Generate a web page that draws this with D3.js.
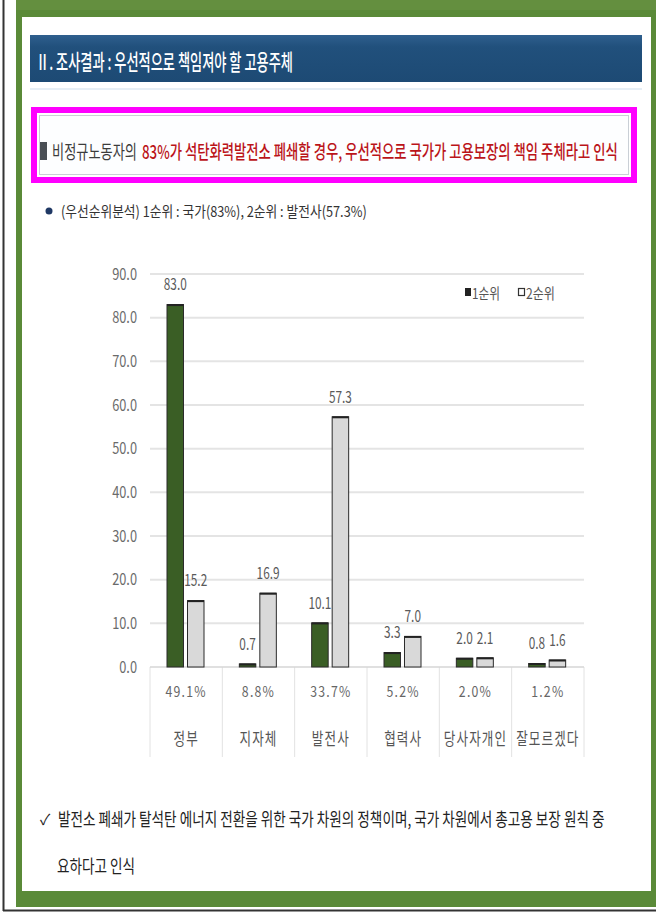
<!DOCTYPE html>
<html>
<head>
<meta charset="utf-8">
<script src="https://cdn.jsdelivr.net/npm/d3@7"></script>
<style>
  html, body { margin: 0; padding: 0; background: #fff; }
  svg { display: block; }
  text { font-family: "Noto Sans CJK KR", "Noto Sans", sans-serif; }
</style>
</head>
<body>
<script>
// Survey: which employer should take primary responsibility (1st / 2nd choice, %)
const categories = ["정부", "지자체", "발전사", "협력사", "당사자개인", "잘모르겠다"];
const rank1 = [83.0, 0.7, 10.1, 3.3, 2.0, 0.8];
const rank2 = [15.2, 16.9, 57.3, 7.0, 2.1, 1.6];
const shareLabels = ["49.1%", "8.8%", "33.7%", "5.2%", "2.0%", "1.2%"];
const seriesNames = ["1순위", "2순위"];
const yTicks = [0, 10, 20, 30, 40, 50, 60, 70, 80, 90];

const W = 656, H = 913;
const svg = d3.select("body").append("svg").attr("width", W).attr("height", H);

// narrow a text horizontally around its anchor, either to a width or by a factor
function squeeze(sel, opt) {
  sel.each(function () {
    const t = d3.select(this);
    const w = this.getComputedTextLength();
    const k = opt.width ? opt.width / w : opt.k;
    const ax = +t.attr("x") || 0;
    t.attr("transform", `translate(${ax},0) scale(${k},1) translate(${-ax},0)`);
  });
}

const defs = svg.append("defs");
const bg = defs.append("linearGradient").attr("id", "banner").attr("x1", 0).attr("y1", 0).attr("x2", 0).attr("y2", 1);
bg.append("stop").attr("offset", 0).attr("stop-color", "#2f5f8e");
bg.append("stop").attr("offset", 0.25).attr("stop-color", "#21507c");
bg.append("stop").attr("offset", 1).attr("stop-color", "#1d4a74");

// page frame
svg.append("rect").attr("x", 16).attr("y", 0).attr("width", W - 16).attr("height", 907).attr("fill", "#5a8a38");
svg.append("rect").attr("x", 16).attr("y", 0).attr("width", W - 16).attr("height", 10).attr("fill", "#648f3f");
svg.append("rect").attr("x", 22).attr("y", 17).attr("width", 629).attr("height", 874).attr("fill", "#fff");
svg.append("line").attr("x1", 3.5).attr("x2", 3.5).attr("y1", 0).attr("y2", 911).attr("stroke", "#333").attr("stroke-width", 2);
svg.append("line").attr("x1", 3).attr("x2", W).attr("y1", 910.5).attr("y2", 910.5).attr("stroke", "#333").attr("stroke-width", 2);

// section banner
svg.append("rect").attr("x", 30).attr("y", 35).attr("width", 612).attr("height", 47).attr("fill", "url(#banner)");
svg.append("rect").attr("x", 30).attr("y", 88).attr("width", 612).attr("height", 2).attr("fill", "#e6eef5");
svg.append("text").attr("x", 36).attr("y", 60).attr("dominant-baseline", "central")
  .attr("font-size", 22).attr("fill", "#fff").attr("font-weight", 500)
  .text("Ⅱ. 조사결과 : 우선적으로 책임져야 할 고용주체").call(squeeze, { width: 257 });

// highlighted headline box
svg.append("rect").attr("x", 34).attr("y", 110).attr("width", 600).attr("height", 70)
  .attr("fill", "#fff").attr("stroke", "#ff00ff").attr("stroke-width", 6);
svg.append("rect").attr("x", 39.5).attr("y", 115.5).attr("width", 589).attr("height", 59)
  .attr("fill", "#fdfeff").attr("stroke", "#c9cfd6").attr("stroke-width", 1);
svg.append("rect").attr("x", 40).attr("y", 142).attr("width", 7).attr("height", 18).attr("fill", "#4a4f55");
svg.append("text").attr("x", 52).attr("y", 151).attr("dominant-baseline", "central")
  .attr("font-size", 19).attr("fill", "#3c3c3c")
  .text("비정규노동자의").call(squeeze, { width: 85 });
svg.append("text").attr("x", 142).attr("y", 151).attr("dominant-baseline", "central")
  .attr("font-size", 19).attr("fill", "#bb1419").attr("font-weight", 500)
  .text("83%가 석탄화력발전소 폐쇄할 경우, 우선적으로 국가가 고용보장의 책임 주체라고 인식").call(squeeze, { width: 476 });

// summary bullet
svg.append("circle").attr("cx", 49).attr("cy", 211).attr("r", 3.5).attr("fill", "#1f3864");
svg.append("text").attr("x", 61).attr("y", 211).attr("dominant-baseline", "central")
  .attr("font-size", 15).attr("fill", "#333")
  .text("(우선순위분석) 1순위 : 국가(83%), 2순위 : 발전사(57.3%)").call(squeeze, { width: 306 });

// chart scales
const y = d3.scaleLinear().domain([0, 90]).range([667, 274]);
const x = d3.scaleBand().domain(categories).range([150, 584]).padding(0);
const xi = d3.scaleBand().domain(seriesNames).range([17, 54]).paddingInner(0.195);

const chart = svg.append("g");

// horizontal gridlines
chart.append("g").selectAll("line").data(yTicks.filter(d => d > 0)).join("line")
  .attr("x1", 150).attr("x2", 584).attr("y1", d => y(d)).attr("y2", d => y(d))
  .attr("stroke", "#e4e4e4").attr("stroke-width", 2);

// y axis labels
const yAxis = d3.axisLeft(y).tickValues(yTicks).tickFormat(d => d.toFixed(1)).tickSize(0).tickPadding(0);
const yg = chart.append("g").attr("transform", "translate(137,0)").call(yAxis);
yg.select(".domain").remove();
yg.selectAll("text").attr("font-size", 16).attr("fill", "#6b6b6b")
  .attr("font-family", "\"Noto Sans CJK KR\", sans-serif").call(squeeze, { k: 0.8 });

// category separators under the axis
const bounds = categories.map(c => x(c)).concat([x.range()[1]]);
chart.append("g").selectAll("line").data(bounds).join("line")
  .attr("x1", d => d).attr("x2", d => d).attr("y1", 667).attr("y2", 757)
  .attr("stroke", "#e2e2e2").attr("stroke-width", 1);
chart.append("line").attr("x1", 150).attr("x2", 584).attr("y1", 667).attr("y2", 667)
  .attr("stroke", "#d6d6d6").attr("stroke-width", 1.5);

// bars
const rows = [];
categories.forEach((c, i) => {
  rows.push({ cat: c, s: seriesNames[0], v: rank1[i] });
  rows.push({ cat: c, s: seriesNames[1], v: rank2[i] });
});
const fills = { "1순위": "#3a5e25", "2순위": "#d9d9d9" };
const bars = chart.append("g").selectAll("g").data(rows).join("g");
bars.append("rect")
  .attr("x", d => x(d.cat) + xi(d.s))
  .attr("y", d => y(d.v))
  .attr("width", xi.bandwidth())
  .attr("height", d => y(0) - y(d.v))
  .attr("fill", d => fills[d.s])
  .attr("stroke", "#2b2b2b").attr("stroke-width", 1);
bars.append("line")
  .attr("x1", d => x(d.cat) + xi(d.s)).attr("x2", d => x(d.cat) + xi(d.s) + xi.bandwidth())
  .attr("y1", d => y(d.v) + 0.5).attr("y2", d => y(d.v) + 0.5)
  .attr("stroke", "#222").attr("stroke-width", 2);
bars.append("text")
  .attr("x", d => x(d.cat) + xi(d.s) + xi.bandwidth() / 2)
  .attr("y", d => y(d.v) - 21)
  .attr("text-anchor", "middle").attr("dominant-baseline", "central")
  .attr("font-size", 16).attr("fill", "#5a5a5a")
  .text(d => d.v.toFixed(1)).call(squeeze, { k: 0.74 });

// share and category labels
chart.append("g").selectAll("text").data(categories).join("text")
  .attr("x", d => x(d) + x.bandwidth() / 2).attr("y", 690)
  .attr("text-anchor", "middle").attr("dominant-baseline", "central")
  .attr("font-size", 15).attr("fill", "#666").attr("letter-spacing", 1.5)
  .text((d, i) => shareLabels[i]).call(squeeze, { k: 0.82 });
chart.append("g").selectAll("text").data(categories).join("text")
  .attr("x", d => x(d) + x.bandwidth() / 2).attr("y", 738)
  .attr("text-anchor", "middle").attr("dominant-baseline", "central")
  .attr("font-size", 17).attr("fill", "#555").attr("letter-spacing", 1.5)
  .text(d => d).call(squeeze, { k: 0.74 });

// legend
const lg = chart.append("g");
lg.append("rect").attr("x", 465).attr("y", 288).attr("width", 6).attr("height", 8).attr("fill", "#222");
lg.append("text").attr("x", 472).attr("y", 292).attr("dominant-baseline", "central")
  .attr("font-size", 15).attr("fill", "#555").text(seriesNames[0]).call(squeeze, { width: 28 });
lg.append("rect").attr("x", 518.5).attr("y", 288.5).attr("width", 6).attr("height", 7)
  .attr("fill", "#fff").attr("stroke", "#333").attr("stroke-width", 1.2);
lg.append("text").attr("x", 526).attr("y", 292).attr("dominant-baseline", "central")
  .attr("font-size", 15).attr("fill", "#555").text(seriesNames[1]).call(squeeze, { width: 29 });

// closing note
svg.append("text").attr("x", 40).attr("y", 818).attr("dominant-baseline", "central")
  .attr("font-size", 15).attr("fill", "#222").text("✓");
svg.append("text").attr("x", 58).attr("y", 818).attr("dominant-baseline", "central")
  .attr("font-size", 18).attr("fill", "#222")
  .text("발전소 폐쇄가 탈석탄 에너지 전환을 위한 국가 차원의 정책이며, 국가 차원에서 총고용 보장 원칙 중").call(squeeze, { width: 547 });
svg.append("text").attr("x", 57).attr("y", 866).attr("dominant-baseline", "central")
  .attr("font-size", 18).attr("fill", "#222")
  .text("요하다고 인식").call(squeeze, { width: 78 });
</script>
</body>
</html>
